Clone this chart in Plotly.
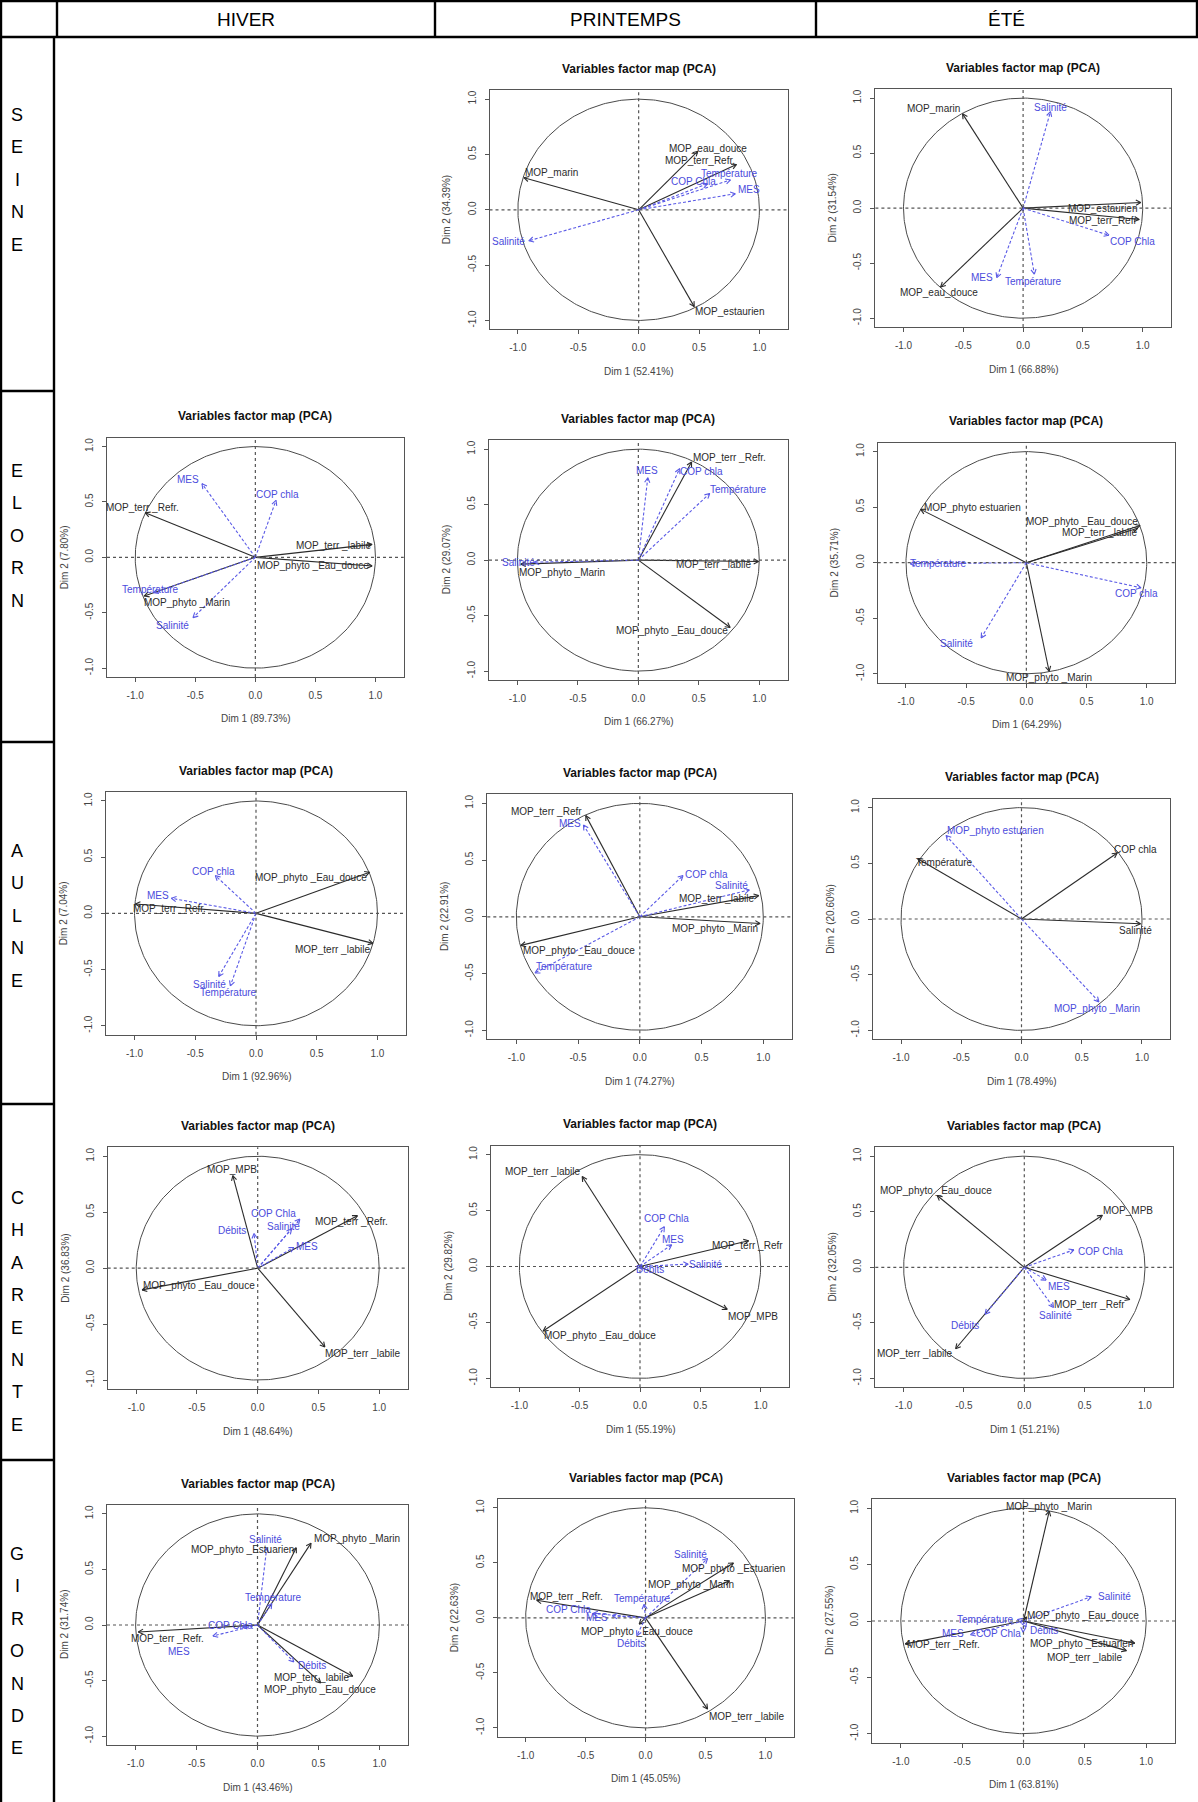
import numpy as np
import plotly.graph_objects as go

W, H = 1198, 1802
FONT = "Liberation Sans, Arial, Helvetica, sans-serif"

# ======================= DATA =======================
# column headers / row labels
seasons = ["HIVER", "PRINTEMPS", "ÉTÉ"]
estuaries = ["SEINE", "ELORN", "AULNE", "CHARENTE", "GIRONDE"]

# ---- SEINE / PRINTEMPS
seine_pr_var = ["MOP_marin", "MOP_eau_douce", "MOP_terr_Refr.", "Température", "COP Chla", "MES", "Salinité", "MOP_estaurien"]
seine_pr_d1 = [-0.95, 0.49, 0.81, 0.76, 0.57, 0.80, -0.91, 0.46]
seine_pr_d2 = [0.29, 0.53, 0.41, 0.27, 0.235, 0.145, -0.28, -0.875]
seine_pr_sup = [0, 0, 0, 1, 1, 1, 1, 0]
seine_pr_pct = (52.41, 34.39)

# ---- SEINE / ETE
seine_ete_var = ["MOP_marin", "Salinité", "MOP_estaurien", "MOP_terr_Refr", "COP Chla", "MES", "Température", "MOP_eau_douce"]
seine_ete_d1 = [-0.506, 0.229, 0.984, 0.971, 0.718, -0.22, 0.094, -0.69]
seine_ete_d2 = [0.857, 0.878, 0.052, -0.103, -0.246, -0.632, -0.60, -0.717]
seine_ete_sup = [0, 1, 0, 0, 1, 1, 1, 0]
seine_ete_pct = (66.88, 31.54)

# ---- ELORN / HIVER
elorn_hi_var = ["MES", "COP chla", "MOP_terr _Refr.", "MOP_terr _labile", "MOP_phyto _Eau_douce", "Température", "MOP_phyto _Marin", "Salinité"]
elorn_hi_d1 = [-0.444, 0.172, -0.917, 0.972, 0.972, -0.847, -0.925, -0.519]
elorn_hi_d2 = [0.665, 0.514, 0.403, 0.117, -0.078, -0.319, -0.349, -0.544]
elorn_hi_sup = [1, 1, 0, 0, 0, 1, 0, 1]
elorn_hi_pct = (89.73, 7.80)

# ---- ELORN / PRINTEMPS
elorn_pr_var = ["MOP_terr _Refr.", "MES", "COP chla", "Température", "Salinité", "MOP_phyto _Marin", "MOP_terr _labile", "MOP_phyto _Eau_douce"]
elorn_pr_d1 = [0.44, 0.078, 0.341, 0.59, -0.86, -0.972, 0.994, 0.759]
elorn_pr_d2 = [0.885, 0.743, 0.825, 0.601, -0.018, -0.036, -0.012, -0.607]
elorn_pr_sup = [0, 1, 1, 1, 1, 0, 0, 0]
elorn_pr_pct = (66.27, 29.07)

# ---- ELORN / ETE
elorn_ete_var = ["MOP_phyto estuarien", "MOP_phyto _Eau_douce", "MOP_terr _labile", "Température", "COP chla", "Salinité", "MOP_phyto _Marin"]
elorn_ete_d1 = [-0.878, 0.945, 0.925, -0.964, 0.953, -0.375, 0.189]
elorn_ete_d2 = [0.48, 0.335, 0.31, -0.01, -0.226, -0.677, -0.977]
elorn_ete_sup = [0, 0, 0, 1, 1, 1, 0]
elorn_ete_pct = (64.29, 35.71)

# ---- AULNE / HIVER
aulne_hi_var = ["COP chla", "MOP_phyto _Eau_douce", "MES", "MOP_terr _Refr.", "MOP_terr _labile", "Salinité", "Température"]
aulne_hi_d1 = [-0.335, 0.935, -0.697, -0.993, 0.963, -0.307, -0.211]
aulne_hi_d2 = [0.336, 0.366, 0.134, 0.083, -0.267, -0.562, -0.645]
aulne_hi_sup = [1, 0, 1, 0, 0, 1, 1]
aulne_hi_pct = (92.96, 7.04)

# ---- AULNE / PRINTEMPS
aulne_pr_var = ["MOP_terr _Refr", "MES", "COP chla", "Salinité", "MOP_terr _labile", "MOP_phyto _Marin", "MOP_phyto _Eau_douce", "Température"]
aulne_pr_d1 = [-0.437, -0.456, 0.35, 0.887, 0.963, 0.974, -0.963, -0.849]
aulne_pr_d2 = [0.892, 0.809, 0.364, 0.237, 0.187, -0.059, -0.252, -0.495]
aulne_pr_sup = [0, 1, 1, 1, 0, 0, 0, 1]
aulne_pr_pct = (74.27, 22.91)

# ---- AULNE / ETE
aulne_ete_var = ["MOP_phyto estuarien", "Température", "COP chla", "Salinité", "MOP_phyto _Marin"]
aulne_ete_d1 = [-0.626, -0.861, 0.794, 0.988, 0.643]
aulne_ete_d2 = [0.75, 0.541, 0.592, -0.042, -0.744]
aulne_ete_sup = [1, 0, 0, 0, 1]
aulne_ete_pct = (78.49, 20.60)

# ---- CHARENTE / HIVER
charente_hi_var = ["MOP_MPB", "COP Chla", "Salinité", "Débits", "MES", "MOP_terr _Refr.", "MOP_phyto _Eau_douce", "MOP_terr _labile"]
charente_hi_d1 = [-0.205, 0.347, 0.279, -0.03, 0.298, 0.821, -0.952, 0.553]
charente_hi_d2 = [0.827, 0.439, 0.349, 0.31, 0.185, 0.469, -0.194, -0.704]
charente_hi_sup = [0, 1, 1, 1, 1, 0, 0, 0]
charente_hi_pct = (48.64, 36.83)

# ---- CHARENTE / PRINTEMPS
charente_pr_var = ["MOP_terr _labile", "COP Chla", "MES", "MOP_terr _Refr", "Salinité", "Débits", "MOP_MPB", "MOP_phyto _Eau_douce"]
charente_pr_d1 = [-0.479, 0.202, 0.263, 0.90, 0.40, 0.014, 0.723, -0.803]
charente_pr_d2 = [0.804, 0.356, 0.194, 0.23, 0.021, -0.024, -0.383, -0.577]
charente_pr_sup = [0, 1, 1, 0, 1, 1, 0, 0]
charente_pr_pct = (55.19, 29.82)

# ---- CHARENTE / ETE
charente_ete_var = ["MOP_phyto _Eau_douce", "MOP_MPB", "COP Chla", "MES", "MOP_terr _Refr", "Salinité", "Débits", "MOP_terr _labile"]
charente_ete_d1 = [-0.722, 0.647, 0.411, 0.181, 0.875, 0.242, -0.325, -0.569]
charente_ete_d2 = [0.646, 0.468, 0.157, -0.115, -0.29, -0.362, -0.422, -0.733]
charente_ete_sup = [0, 0, 1, 1, 0, 1, 1, 0]
charente_ete_pct = (51.21, 32.05)

# ---- GIRONDE / HIVER
gironde_hi_var = ["Salinité", "MOP_phyto _Estuarien", "MOP_phyto _Marin", "Température", "COP Chla", "MOP_terr _Refr.", "MES", "Débits", "MOP_terr _labile", "MOP_phyto _Eau_douce"]
gironde_hi_d1 = [0.076, 0.318, 0.439, 0.117, -0.125, -0.978, -0.366, 0.298, 0.781, 0.519]
gironde_hi_d2 = [0.695, 0.695, 0.737, 0.192, -0.018, -0.063, -0.099, -0.332, -0.461, -0.521]
gironde_hi_sup = [1, 0, 0, 1, 1, 0, 1, 1, 0, 0]
gironde_hi_pct = (43.46, 31.74)

# ---- GIRONDE / PRINTEMPS
gironde_pr_var = ["Salinité", "MOP_phyto _Estuarien", "MOP_phyto _Marin", "MOP_terr _Refr.", "Température", "COP Chla", "MES", "MOP_phyto _Eau_douce", "Débits", "MOP_terr _labile"]
gironde_pr_d1 = [0.517, 0.733, 0.70, -0.908, -0.012, -0.44, -0.277, -0.053, -0.073, 0.517]
gironde_pr_d2 = [0.539, 0.499, 0.336, 0.16, 0.124, 0.04, 0.018, -0.057, -0.163, -0.829]
gironde_pr_sup = [1, 0, 0, 0, 1, 1, 1, 0, 1, 0]
gironde_pr_pct = (45.05, 22.63)

# ---- GIRONDE / ETE
gironde_ete_var = ["MOP_phyto _Marin", "Salinité", "MOP_phyto _Eau_douce", "Température", "MES", "COP Chla", "Débits", "MOP_terr _Refr.", "MOP_phyto _Estuarien", "MOP_terr _labile"]
gironde_ete_d1 = [0.21, 0.552, 0.025, -0.049, -0.432, -0.003, 0.02, -0.964, 0.907, 0.839]
gironde_ete_d2 = [0.976, 0.215, 0.036, 0.012, -0.122, -0.099, -0.054, -0.203, -0.197, -0.263]
gironde_ete_sup = [0, 1, 0, 1, 1, 1, 1, 0, 0, 0]
gironde_ete_pct = (63.81, 27.55)

# ======================= LAYOUT / STYLE =======================
# label nudges (px: right, up) relative to arrow tip
LAB = {
    "seine_pr": [(28, 5), (10, 3), (-36, 4), (-1, 6), (-14, 2), (14, 4), (-20, -1), (35, -5)],
    "seine_ete": [(-29, 5), (0, 4), (-38, -6), (-36, -1), (24, -6), (-15, 0), (-1, -7), (-2, -5)],
    "elorn_hi": [(-14, 4), (1, 6), (-3, 5), (-39, -1), (-59, 0), (-3, 3), (43, -6), (-21, -8)],
    "elorn_pr": [(38, 4), (-1, 7), (22, -3), (29, 4), (-16, 0), (41, -8), (-45, -3), (-58, -3)],
    "elorn_ete": [(52, 2), (-58, 4), (-38, -4), (28, 0), (-5, -6), (-25, -6), (0, -6)],
    "aulne_hi": [(-2, 4), (-59, -5), (-13, 3), (34, -4), (-40, -6), (-9, -8), (-2, -7)],
    "aulne_pr": [(-39, 4), (-13, 2), (23, 1), (-18, 4), (-42, -3), (-45, -5), (58, -5), (30, 6)],
    "aulne_ete": [(49, 5), (27, -4), (18, 4), (-5, -7), (-2, -7)],
    "charente_hi": [(-1, 6), (-26, 6), (-8, 3), (-22, 3), (13, 1), (-6, -6), (57, 4), (38, -7)],
    "charente_pr": [(-40, 5), (2, 8), (1, 5), (-1, -5), (17, 0), (8, 0), (26, -7), (57, -4)],
    "charente_ete": [(-1, 5), (26, 5), (27, -2), (13, -6), (-40, -5), (2, -8), (-20, -11), (-41, -5)],
    "gironde_hi": [(-1, 8), (-54, -2), (46, 5), (2, 6), (-12, 2), (29, -6), (-34, -15), (18, -4), (-41, -1), (-1, -7)],
    "gironde_pr": [(-17, 4), (0, -6), (-38, -4), (30, 4), (-2, 6), (-24, 4), (-15, -2), (-2, -7), (-6, -8), (39, -7)],
    "gironde_ete": [(0, 5), (23, 0), (56, 1), (-32, 0), (-18, 1), (-25, -1), (18, -3), (38, -1), (-53, 0), (-42, -7)],
}

# plot frame boxes in page px: left, right, top, bottom
FRAMES = {
    "seine_pr": (489.5, 787.8, 90.3, 329.3),
    "seine_ete": (875.4, 1170.8, 89.3, 327.0),
    "elorn_hi": (107.0, 403.7, 437.7, 677.0),
    "elorn_pr": (489.0, 787.7, 440.3, 680.0),
    "elorn_ete": (877.7, 1175.0, 442.7, 682.7),
    "aulne_hi": (106.0, 406.0, 792.0, 1034.7),
    "aulne_pr": (487.3, 792.3, 794.3, 1039.3),
    "aulne_ete": (872.7, 1170.3, 798.7, 1039.3),
    "charente_hi": (107.7, 407.7, 1147.3, 1389.0),
    "charente_pr": (491.0, 789.0, 1145.7, 1387.3),
    "charente_ete": (875.3, 1173.3, 1147.3, 1387.3),
    "gironde_hi": (107.0, 408.0, 1505.0, 1745.0),
    "gironde_pr": (497.5, 793.6, 1499.0, 1736.7),
    "gironde_ete": (872.0, 1175.0, 1499.3, 1742.7),
}

PANELS = [
    ("seine_pr", seine_pr_var, seine_pr_d1, seine_pr_d2, seine_pr_sup, seine_pr_pct),
    ("seine_ete", seine_ete_var, seine_ete_d1, seine_ete_d2, seine_ete_sup, seine_ete_pct),
    ("elorn_hi", elorn_hi_var, elorn_hi_d1, elorn_hi_d2, elorn_hi_sup, elorn_hi_pct),
    ("elorn_pr", elorn_pr_var, elorn_pr_d1, elorn_pr_d2, elorn_pr_sup, elorn_pr_pct),
    ("elorn_ete", elorn_ete_var, elorn_ete_d1, elorn_ete_d2, elorn_ete_sup, elorn_ete_pct),
    ("aulne_hi", aulne_hi_var, aulne_hi_d1, aulne_hi_d2, aulne_hi_sup, aulne_hi_pct),
    ("aulne_pr", aulne_pr_var, aulne_pr_d1, aulne_pr_d2, aulne_pr_sup, aulne_pr_pct),
    ("aulne_ete", aulne_ete_var, aulne_ete_d1, aulne_ete_d2, aulne_ete_sup, aulne_ete_pct),
    ("charente_hi", charente_hi_var, charente_hi_d1, charente_hi_d2, charente_hi_sup, charente_hi_pct),
    ("charente_pr", charente_pr_var, charente_pr_d1, charente_pr_d2, charente_pr_sup, charente_pr_pct),
    ("charente_ete", charente_ete_var, charente_ete_d1, charente_ete_d2, charente_ete_sup, charente_ete_pct),
    ("gironde_hi", gironde_hi_var, gironde_hi_d1, gironde_hi_d2, gironde_hi_sup, gironde_hi_pct),
    ("gironde_pr", gironde_pr_var, gironde_pr_d1, gironde_pr_d2, gironde_pr_sup, gironde_pr_pct),
    ("gironde_ete", gironde_ete_var, gironde_ete_d1, gironde_ete_d2, gironde_ete_sup, gironde_ete_pct),
]

XR, YR = 1.235, 1.08
BLACK = "#2b2b2b"
BLUE = "#5a5ae6"
BLUE_TXT = "#4b4bdc"
AX_COL = "#555555"
TICK_TXT = "#444444"
HEAD_LEN, HEAD_ANG = 5.5, np.radians(28)


def px_x(v):
    return v / W


def px_y(v):
    return 1 - v / H


fig = go.Figure()
annotations = []
shapes = []
theta = np.linspace(0, 2 * np.pi, 361)

for i, (key, names, d1, d2, sup, pct) in enumerate(PANELS, start=1):
    l, r, t, b = FRAMES[key]
    xa = "x" if i == 1 else f"x{i}"
    ya = "y" if i == 1 else f"y{i}"
    xkey = "xaxis" if i == 1 else f"xaxis{i}"
    ykey = "yaxis" if i == 1 else f"yaxis{i}"
    ux = (r - l) / (2 * XR)   # px per unit
    uy = (b - t) / (2 * YR)

    axis_common = dict(
        tickvals=[-1, -0.5, 0, 0.5, 1],
        ticktext=["-1.0", "-0.5", "0.0", "0.5", "1.0"],
        showgrid=False, zeroline=False, showline=True, mirror=True,
        linecolor=AX_COL, linewidth=1, ticks="outside", ticklen=4,
        tickcolor=AX_COL, tickwidth=1,
        tickfont=dict(family=FONT, size=10, color=TICK_TXT),
        fixedrange=True, ticklabelstandoff=5,
    )
    fig.layout[xkey] = dict(axis_common, domain=[px_x(l), px_x(r)], range=[-XR, XR], anchor=ya)
    fig.layout[ykey] = dict(axis_common, domain=[px_y(b), px_y(t)], range=[-YR, YR], anchor=xa,
                            tickangle=-90)

    # unit circle
    fig.add_trace(go.Scatter(x=np.cos(theta), y=np.sin(theta), mode="lines",
                             line=dict(color="#4a4a4a", width=1), xaxis=xa, yaxis=ya,
                             hoverinfo="skip", showlegend=False))
    # dashed reference lines
    shapes.append(dict(type="line", xref=f"{xa} domain", x0=0, x1=1, yref=ya, y0=0, y1=0,
                       line=dict(color="#555555", width=1.2, dash="3px,3px")))
    shapes.append(dict(type="line", yref=f"{ya} domain", y0=0, y1=1, xref=xa, x0=0, x1=0,
                       line=dict(color="#555555", width=1.2, dash="3px,3px")))

    groups = {0: ([], [], [], []), 1: ([], [], [], [])}
    for n, x, y, s, (dx, dy) in zip(names, d1, d2, sup, LAB[key]):
        sx, sy, hx, hy = groups[s]
        sx += [0, x, None]
        sy += [0, y, None]
        ang = np.arctan2(y * uy, x * ux)
        for sgn in (-1, 1):
            a = ang + sgn * HEAD_ANG
            hx += [x - HEAD_LEN * np.cos(a) / ux, x, None]
            hy += [y - HEAD_LEN * np.sin(a) / uy, y, None]
        annotations.append(dict(x=x, y=y, xref=xa, yref=ya, xshift=dx, yshift=dy,
                                text=n, showarrow=False, xanchor="center", yanchor="middle",
                                font=dict(family=FONT, size=10, color=BLUE_TXT if s else BLACK)))
    for s, (sx, sy, hx, hy) in groups.items():
        if not sx:
            continue
        col = BLUE if s else BLACK
        fig.add_trace(go.Scatter(x=sx, y=sy, mode="lines",
                                 line=dict(color=col, width=1.1, dash="3px,2px" if s else "solid"),
                                 xaxis=xa, yaxis=ya, hoverinfo="skip", showlegend=False))
        fig.add_trace(go.Scatter(x=hx, y=hy, mode="lines", line=dict(color=col, width=1.1),
                                 xaxis=xa, yaxis=ya, hoverinfo="skip", showlegend=False))

    cx = (l + r) / 2
    cy = (t + b) / 2
    annotations.append(dict(x=px_x(cx), y=px_y(t - 21.5), xref="paper", yref="paper",
                            text="<b>Variables factor map (PCA)</b>", showarrow=False,
                            xanchor="center", yanchor="middle",
                            font=dict(family=FONT, size=12, color="#111111")))
    annotations.append(dict(x=px_x(cx), y=px_y(b + 42), xref="paper", yref="paper",
                            text=f"Dim 1 ({pct[0]:.2f}%)", showarrow=False,
                            xanchor="center", yanchor="middle",
                            font=dict(family=FONT, size=10, color=TICK_TXT)))
    annotations.append(dict(x=px_x(l - 43), y=px_y(cy), xref="paper", yref="paper",
                            text=f"Dim 2 ({pct[1]:.2f}%)", showarrow=False, textangle=-90,
                            xanchor="center", yanchor="middle",
                            font=dict(family=FONT, size=10, color=TICK_TXT)))

# ---------------- table frame ----------------
HEAD_B = 37
COL_X = [57, 435, 816, 1197]
ROW_Y = [37, 391, 742, 1104, 1460, 1802]
LEFT_W = 54


def hline(y, x0, x1, w=2.4):
    shapes.append(dict(type="line", xref="paper", yref="paper", x0=px_x(x0), x1=px_x(x1),
                       y0=px_y(y), y1=px_y(y), line=dict(color="black", width=w)))


def vline(x, y0, y1, w=2.4):
    shapes.append(dict(type="line", xref="paper", yref="paper", x0=px_x(x), x1=px_x(x),
                       y0=px_y(y0), y1=px_y(y1), line=dict(color="black", width=w)))


hline(1, 0, W)
hline(HEAD_B, 0, W)
vline(1, 0, H)
for cxp in COL_X:
    vline(cxp, 0, HEAD_B)
vline(LEFT_W, HEAD_B, H)
for ry in ROW_Y[1:-1]:
    hline(ry, 0, LEFT_W)

# header texts
for j, s in enumerate(seasons):
    annotations.append(dict(x=px_x((COL_X[j] + COL_X[j + 1]) / 2), y=px_y(19), xref="paper", yref="paper",
                            text=s, showarrow=False, xanchor="center", yanchor="middle",
                            font=dict(family=FONT, size=19, color="black")))

# row labels: vertical stacked letters
LETTER_START = [115, 471, 851, 1198, 1554]
LETTER_STEP = 32.4
for k, name in enumerate(estuaries):
    for m, ch in enumerate(name):
        annotations.append(dict(x=px_x(17), y=px_y(LETTER_START[k] + m * LETTER_STEP),
                                xref="paper", yref="paper", text=ch, showarrow=False,
                                xanchor="center", yanchor="middle",
                                font=dict(family=FONT, size=18, color="black")))

fig.update_layout(
    width=W, height=H, autosize=False,
    margin=dict(l=0, r=0, t=0, b=0),
    paper_bgcolor="white", plot_bgcolor="white",
    annotations=annotations, shapes=shapes, showlegend=False,
)

fig.write_html("out.html", config={"displayModeBar": False},
               post_script="document.body.style.margin='0px';document.body.style.padding='0px';")
